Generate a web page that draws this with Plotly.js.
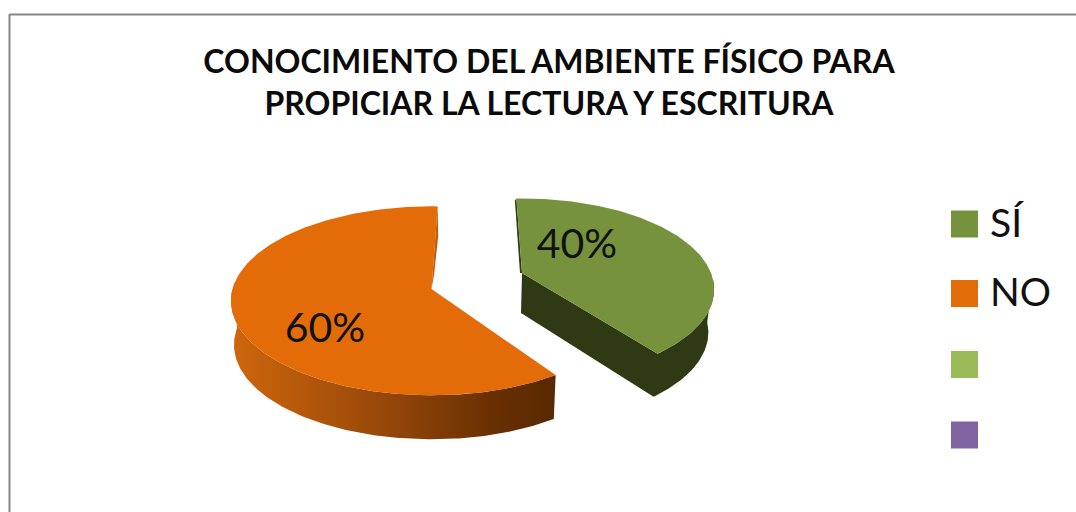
<!DOCTYPE html>
<html>
<head>
<meta charset="utf-8">
<script src="https://cdn.plot.ly/plotly-3.0.1.min.js"></script>
<style>html,body{margin:0;padding:0;background:#fff}#chart{width:1076px;height:512px}</style>
</head>
<body>
<div id="chart"></div>
<script>
// Data
const titleLines = ['CONOCIMIENTO DEL AMBIENTE FÍSICO PARA', 'PROPICIAR LA LECTURA Y ESCRITURA'];
const categories = ['SÍ', 'NO', '', ''];
const shares = [40, 60];
const colors = ['#76923C', '#E36C09', '#9BBB59', '#8064A2'];

// Drawing geometry (axes run in pixels of the picture)
const FONT = 'Lato, Carlito, "Open Sans", sans-serif';
const slices = [
  {cx: 522, cy: 273, R: 189, Ry: 88, a: 0.18, rot: -2, depth: 43, shrink: 0.97, label: [577, 248]},
  {cx: 431.5, cy: 289, R: 199, Ry: 93, a: 0.125, rot: 2, depth: 44, shrink: 0.985, label: [325, 332]}
];
const legendX = 964.5, legendY = [224, 293.5, 364.5, 435], legendTextY = [227, 296, 364.5, 435];

function rimPoint(s, deg) {
  const t = (deg + s.rot) * Math.PI / 180;
  const k = 1 / (1 + s.a * Math.cos(t));
  return [s.cx + s.R * Math.sin(t) * k, s.cy - s.Ry * Math.cos(t) * k];
}
function lowered(s, p) { return [s.cx + (p[0] - s.cx) * s.shrink, p[1] + s.depth]; }
function arc(s, from, to) {
  const pts = [];
  const n = Math.max(2, Math.round(Math.abs(to - from)));
  for (let i = 0; i <= n; i++) pts.push(rimPoint(s, from + (to - from) * i / n));
  return pts;
}
function poly(pts, extra) {
  return Object.assign({
    type: 'scatter', mode: 'lines', x: pts.map(p => p[0]), y: pts.map(p => p[1]),
    fill: 'toself', line: {width: 0}, hoverinfo: 'skip', showlegend: false
  }, extra);
}

const degSi = shares[0] / (shares[0] + shares[1]) * 360;
const traces = [];

// SÍ: dark side walls and top
{
  const s = slices[0], apex = [s.cx, s.cy], wall = '#2F3A15';
  const rim = arc(s, 96, degSi);
  // apex -> rim end -> back along the rim -> lower rim forward -> lower apex
  const lower = rim.map(p => lowered(s, p));
  traces.push(poly([apex].concat(rim.slice().reverse(), lower, [[apex[0] - 1, apex[1] + 40]]), {fillcolor: wall}));
  const top0 = rimPoint(s, 0);
  traces.push(poly([top0, apex, [apex[0] - 2, apex[1]], [top0[0] - 1.5, top0[1] + 2]], {fillcolor: wall}));
  traces.push(poly([apex].concat(arc(s, 0, degSi)), {fillcolor: colors[0]}));
}
// NO: shaded rim and top
{
  const s = slices[1], apex = [s.cx, s.cy];
  const rim = arc(s, degSi, 272);
  traces.push(poly(rim.concat(rim.slice().reverse().map(p => lowered(s, p))), {
    fillgradient: {type: 'horizontal', colorscale: [[0, '#CF660C'], [0.45, '#99490A'], [0.8, '#6A3002'], [1, '#582800']]}
  }));
  const top0 = rimPoint(s, 360);
  traces.push(poly([apex].concat(arc(s, degSi, 360)), {fillcolor: colors[1]}));
  traces.push(poly([top0, apex, [apex[0] + 2.5, apex[1] - 14], [top0[0] + 0.5, top0[1] + 30]], {fillcolor: '#C25B08'}));
}
// Percent labels
traces.push({
  type: 'scatter', mode: 'text', x: slices.map(s => s.label[0]), y: slices.map(s => s.label[1]),
  text: shares.map(v => v + '%'), textposition: 'middle center',
  textfont: {family: FONT, size: 41, color: '#111'}, hoverinfo: 'skip', showlegend: false
});
// Legend swatches and names
traces.push({
  type: 'scatter', mode: 'markers', x: categories.map(() => legendX), y: legendY,
  marker: {symbol: 'square', size: 27, color: colors, line: {width: 0}}, hoverinfo: 'skip', showlegend: false
});
traces.push({
  type: 'scatter', mode: 'text', x: categories.map(() => 990), y: legendTextY,
  text: categories, textposition: 'middle right',
  textfont: {family: FONT, size: 39, color: '#111'}, hoverinfo: 'skip', showlegend: false
});

const layout = {
  width: 1076, height: 512, margin: {l: 0, r: 0, t: 0, b: 0},
  paper_bgcolor: '#fff', plot_bgcolor: '#fff', showlegend: false,
  xaxis: {range: [0, 1076], visible: false, fixedrange: true},
  yaxis: {range: [512, 0], visible: false, fixedrange: true},
  title: {
    text: titleLines.join('<br>'), x: 549 / 1076, xanchor: 'center', y: 1 - 73 / 512, yanchor: 'top',
    yref: 'container', font: {family: FONT, size: 32, weight: 700, color: '#0b0b0b'}
  },
  shapes: [
    {type: 'line', x0: 9.5, x1: 1076, y0: 14.5, y1: 14.5, line: {color: '#868686', width: 2}},
    {type: 'line', x0: 9.5, x1: 9.5, y0: 14, y1: 512, line: {color: '#868686', width: 2}}
  ]
};
Plotly.newPlot('chart', traces, layout, {displayModeBar: false, staticPlot: true});
</script>
</body>
</html>
